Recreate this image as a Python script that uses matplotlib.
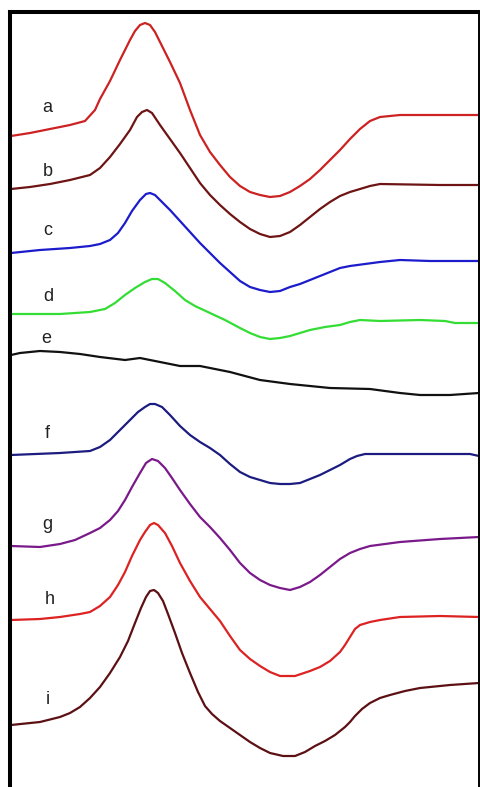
import matplotlib
matplotlib.use("Agg")
import matplotlib.pyplot as plt

# traced curves, x / y in picture units (y grows downward)
labels = ["a", "b", "c", "d", "e", "f", "g", "h", "i"]
label_x = [47, 48, 48, 48, 46, 47, 47, 50, 48]
label_y = [107, 171, 230, 296, 338, 433, 524, 599, 699]

a_x = [11, 30, 50, 70, 85, 95, 100, 110, 120, 130, 135, 140, 145, 150, 155, 160, 170, 180, 190, 200,
       210, 220, 230, 240, 250, 260, 270, 280, 290, 300, 310, 320, 330, 340, 350, 360, 370, 380, 390, 400, 479]
a_y = [136, 133, 129, 125, 121, 110, 99, 81, 60, 40, 31, 25, 23, 25, 32, 42, 62, 83, 110, 135,
       152, 165, 177, 186, 192, 195, 197, 196, 192, 186, 179, 170, 160, 150, 139, 129, 121, 117, 116, 115, 115]

b_x = [11, 30, 50, 70, 90, 100, 110, 120, 130, 137, 142, 147, 152, 160, 170, 180, 190, 200, 210, 220,
       230, 240, 250, 260, 270, 280, 290, 300, 310, 320, 330, 340, 350, 360, 370, 380, 440, 479]
b_y = [189, 187, 184, 180, 175, 168, 157, 144, 130, 117, 112, 110, 113, 125, 139, 153, 168, 183, 195, 205,
       214, 222, 229, 234, 237, 236, 232, 225, 217, 209, 202, 196, 192, 189, 186, 184, 185, 185]

c_x = [11, 40, 70, 90, 100, 110, 118, 125, 132, 140, 146, 150, 155, 160, 170, 180, 190, 200, 210, 220,
       230, 240, 250, 260, 270, 280, 290, 300, 310, 320, 330, 340, 350, 365, 380, 400, 430, 479]
c_y = [253, 250, 248, 246, 244, 240, 233, 223, 211, 200, 194, 193, 195, 200, 210, 221, 232, 243, 253, 263,
       272, 281, 287, 290, 292, 291, 287, 284, 280, 276, 272, 268, 266, 264, 262, 260, 261, 261]

d_x = [11, 60, 90, 105, 115, 125, 135, 145, 152, 158, 165, 175, 185, 195, 210, 225, 240, 250, 260, 270,
       280, 290, 300, 310, 325, 340, 350, 360, 380, 420, 445, 455, 479]
d_y = [314, 314, 312, 309, 303, 295, 288, 282, 279, 279, 283, 291, 300, 306, 313, 320, 328, 333, 337, 339,
       338, 336, 333, 330, 327, 325, 322, 320, 321, 320, 321, 323, 323]

e_x = [11, 20, 40, 60, 80, 100, 125, 140, 150, 170, 180, 200, 230, 260, 290, 300, 330, 370, 400, 420, 450, 479]
e_y = [355, 353, 351, 352, 354, 357, 360, 358, 360, 364, 366, 366, 372, 380, 384, 385, 388, 389, 393, 395, 395, 393]

f_x = [11, 60, 90, 100, 110, 120, 130, 138, 145, 150, 155, 162, 170, 180, 190, 200, 210, 220, 230, 240,
       250, 260, 270, 280, 290, 300, 310, 320, 330, 340, 350, 357, 365, 400, 470, 479]
f_y = [455, 453, 451, 447, 440, 430, 420, 412, 407, 404, 404, 407, 415, 426, 435, 442, 448, 455, 464, 472,
       477, 480, 483, 484, 484, 483, 479, 475, 470, 465, 459, 456, 454, 454, 454, 456]

g_x = [11, 40, 60, 75, 90, 100, 110, 118, 125, 132, 140, 146, 152, 158, 165, 172, 180, 190, 200, 210,
       220, 230, 240, 250, 260, 270, 280, 290, 300, 310, 320, 330, 340, 350, 360, 370, 385, 400, 440, 479]
g_y = [546, 547, 544, 540, 533, 528, 520, 511, 500, 487, 473, 463, 459, 461, 468, 478, 490, 504, 517, 527,
       538, 550, 563, 573, 580, 585, 588, 590, 587, 582, 575, 567, 559, 553, 549, 546, 544, 542, 539, 537]

h_x = [11, 40, 60, 80, 90, 100, 110, 118, 125, 132, 140, 145, 150, 154, 158, 165, 172, 180, 190, 200,
       210, 220, 230, 240, 250, 260, 270, 280, 295, 310, 320, 330, 340, 345, 350, 355, 360, 370, 380, 400, 440, 479]
h_y = [620, 619, 617, 614, 612, 606, 597, 585, 572, 556, 540, 532, 525, 523, 525, 533, 546, 563, 581, 597,
       609, 621, 636, 650, 659, 666, 672, 676, 676, 671, 667, 661, 652, 645, 637, 629, 625, 622, 620, 617, 616, 617]

i_x = [11, 40, 60, 70, 80, 90, 100, 110, 120, 128, 135, 141, 146, 150, 154, 158, 163, 168, 175, 182,
       190, 198, 205, 212, 220, 230, 240, 250, 260, 270, 283, 295, 305, 315, 325, 335, 345, 350, 355, 362,
       370, 380, 390, 405, 420, 450, 479]
i_y = [725, 722, 717, 713, 707, 698, 687, 673, 657, 641, 623, 608, 597, 591, 590, 593, 601, 614, 633, 653,
       673, 692, 706, 714, 721, 728, 735, 742, 748, 753, 756, 756, 752, 746, 741, 735, 727, 722, 716, 709,
       703, 698, 695, 691, 688, 685, 683]

curves_x = [a_x, b_x, c_x, d_x, e_x, f_x, g_x, h_x, i_x]
curves_y = [a_y, b_y, c_y, d_y, e_y, f_y, g_y, h_y, i_y]
colors = ["#cc2222", "#6e1414", "#1c1ccc", "#33dd33", "#111111",
          "#1c1c80", "#7a1a8a", "#dd2222", "#5c1014"]

fig = plt.figure(figsize=(4.8, 7.87), dpi=100)
ax = fig.add_axes([10 / 480, 0, 468.5 / 480, 775 / 787])

for xs, ys, col in zip(curves_x, curves_y, colors):
    ax.plot(xs, ys, color=col, lw=1.6, solid_joinstyle="round")

for lab, lx, ly in zip(labels, label_x, label_y):
    ax.text(lx, ly, lab, fontsize=13, family="Liberation Sans",
            ha="center", va="center", color="#222222")

ax.set_xlim(10, 478.5)
ax.set_ylim(787, 12)
ax.set_xticks([])
ax.set_yticks([])
ax.spines["bottom"].set_visible(False)
ax.spines["left"].set_linewidth(2.9)
ax.spines["top"].set_linewidth(2.9)
ax.spines["right"].set_linewidth(1.4)

fig.savefig("out.png", dpi=100)
